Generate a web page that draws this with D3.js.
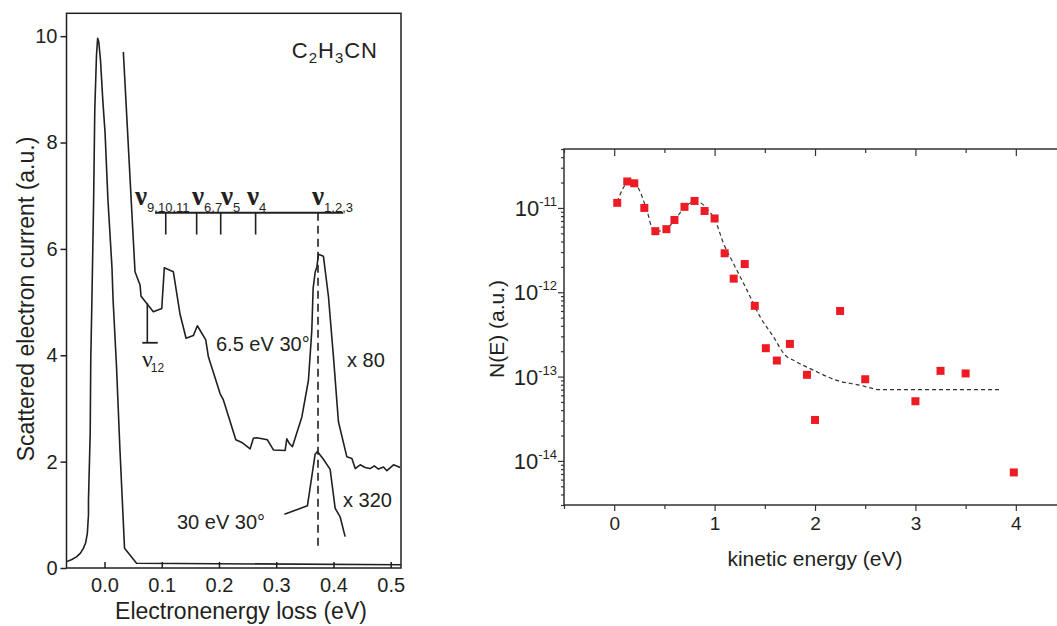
<!DOCTYPE html>
<html>
<head>
<meta charset="utf-8">
<script src="https://cdn.jsdelivr.net/npm/d3@7"></script>
<style>
body { margin: 0; background: #fff; }
text { font-family: "Liberation Sans", Arial, sans-serif; fill: #231f20; }
</style>
</head>
<body>
<div class="chart-div"></div>
<script>
//--------------------------- Data: left panel (energy loss spectra)

var elasticLoss = [-0.066, -0.057, -0.049, -0.042, -0.037, -0.033, -0.030, -0.028, -0.028, -0.025, -0.024, -0.022, -0.019, -0.017, -0.014, -0.012, -0.010, -0.007, -0.003, 0.001, 0.006, 0.013, 0.015, 0.021, 0.027, 0.035, 0.056, 0.518];
var elasticCurrent = [0.12, 0.16, 0.21, 0.28, 0.37, 0.47, 0.65, 1.0, 1.28, 2.54, 3.91, 5.04, 6.92, 8.61, 9.64, 9.96, 9.89, 9.55, 8.8, 8.18, 6.92, 5.66, 5.04, 3.78, 2.22, 0.37, 0.09, 0.06];

var vib65Loss = [0.0329, 0.0533, 0.0621, 0.0638, 0.0853, 0.1000, 0.1045, 0.1203, 0.132, 0.1425, 0.1552, 0.1622, 0.1769, 0.1815, 0.2019, 0.2077, 0.2294, 0.2399, 0.2544, 0.2601, 0.2661, 0.2846, 0.2951, 0.3156, 0.3185, 0.3231, 0.3283, 0.3448, 0.3563, 0.3622, 0.3645, 0.368, 0.371, 0.3738, 0.3825, 0.3913, 0.40, 0.4087, 0.4234, 0.4322, 0.438, 0.4467, 0.4554, 0.4642, 0.4712, 0.4787, 0.4874, 0.4934, 0.5049, 0.5166];
var vib65Current = [9.705, 5.57, 5.32, 5.11, 4.82, 4.88, 5.645, 5.57, 4.77, 4.32, 4.37, 4.555, 4.29, 3.97, 3.28, 3.16, 2.41, 2.36, 2.24, 2.44, 2.45, 2.41, 2.22, 2.21, 2.43, 2.34, 2.28, 2.84, 3.53, 4.47, 5.26, 5.56, 5.66, 5.90, 5.86, 5.10, 3.97, 2.75, 2.09, 2.06, 1.87, 1.94, 1.89, 1.87, 1.92, 1.86, 1.90, 1.83, 1.94, 1.89];

var vib30Loss = [0.3143, 0.3545, 0.368, 0.372, 0.3815, 0.3942, 0.403, 0.4117, 0.4204];
var vib30Current = [1.01, 1.17, 2.14, 2.19, 2.06, 1.855, 1.12, 0.96, 0.59];

var lossTicks = [0.0, 0.1, 0.2, 0.3, 0.4, 0.5];
var currentTicks = [0, 2, 4, 6, 8, 10];

// vibrational mode markers
var modeSubs = ["9,10,11", "6,7", "5", "4", "1,2,3"];
var modeLoss = [0.107, 0.161, 0.203, 0.264, 0.373];
var modeLabelLoss = [0.0533, 0.1529, 0.2035, 0.249, 0.3625];
var modeBar = [0.0883, 0.417, 6.68, 6.27];   // x from, x to, level, tick end
var nu12 = [0.0748, 4.98, 4.235];            // loss, top, bottom

//--------------------------- Data: right panel (N(E))

var kineticE = [0.03, 0.13, 0.2, 0.3, 0.41, 0.52, 0.6, 0.7, 0.8, 0.9, 1.0, 1.1, 1.19, 1.3, 1.4, 1.51, 1.62, 1.75, 1.92, 2.0, 2.25, 2.5, 3.0, 3.25, 3.5, 3.98];
var yieldNE = [1.15e-11, 2.06e-11, 1.96e-11, 1.0e-11, 5.3e-12, 5.6e-12, 7.2e-12, 1.03e-11, 1.21e-11, 9.2e-12, 7.5e-12, 2.9e-12, 1.45e-12, 2.16e-12, 6.9e-13, 2.17e-13, 1.55e-13, 2.44e-13, 1.05e-13, 3.06e-14, 6.0e-13, 9.3e-14, 5.1e-14, 1.17e-13, 1.09e-13, 7.3e-15];

var fitE = [0.03, 0.126, 0.176, 0.242, 0.325, 0.392, 0.458, 0.541, 0.624, 0.707, 0.79, 0.857, 0.923, 1.006, 1.089, 1.188, 1.322, 1.454, 1.587, 1.703, 1.786, 1.985, 2.218, 2.45, 2.65, 3.86];
var fitN = [1.18e-11, 1.95e-11, 2.03e-11, 1.70e-11, 9.4e-12, 5.4e-12, 5.33e-12, 5.96e-12, 7.8e-12, 1.03e-11, 1.18e-11, 1.15e-11, 9.8e-12, 7.1e-12, 3.8e-12, 2.19e-12, 1.06e-12, 5.1e-13, 2.95e-13, 1.79e-13, 1.56e-13, 1.19e-13, 9.0e-14, 7.9e-14, 7.0e-14, 7.0e-14];

var energyTicks = [0, 1, 2, 3, 4];
var energyMinor = [-0.5, 0.5, 1.5, 2.5, 3.5];
var decadeTicks = [1e-14, 1e-13, 1e-12, 1e-11];
var decadeExp = ["-14", "-13", "-12", "-11"];

//--------------------------- SVG definition

var ink = "#231f20";
var svg = d3.select("div.chart-div")
    .append("svg")
    .attr("width", 1057)
    .attr("height", 626);

//=========================== LEFT PANEL

var xL = d3.scaleLinear().domain([-0.0664, 0.518]).range([66.5, 401]);
var yL = d3.scaleLinear().domain([0, 10.43]).range([568, 13.3]);

var left = svg.append("g");

left.append("rect")
    .attr("x", 66.5).attr("y", 13.3)
    .attr("width", 334.5).attr("height", 554.7)
    .attr("fill", "none").attr("stroke", ink).attr("stroke-width", 1.5);

var gxL = left.append("g")
    .attr("transform", "translate(0,568)")
    .call(d3.axisBottom(xL).tickValues(lossTicks).tickFormat(d3.format(".1f"))
        .tickSizeInner(-6).tickSizeOuter(0).tickPadding(10));

var gyL = left.append("g")
    .attr("transform", "translate(66.5,0)")
    .call(d3.axisLeft(yL).tickValues(currentTicks).tickFormat(d3.format("d"))
        .tickSize(6).tickPadding(3));

[gxL, gyL].forEach(function (g) {
    g.select(".domain").remove();
    g.selectAll("line").attr("stroke", ink).attr("stroke-width", 1.5);
    g.selectAll("text").attr("font-size", 20).attr("fill", ink)
        .style("font-family", '"Liberation Sans", Arial, sans-serif');
});

left.append("text")
    .attr("transform", "translate(34,299) rotate(-90)")
    .attr("text-anchor", "middle")
    .attr("font-size", 23)
    .text("Scattered electron current (a.u.)");

left.append("text")
    .attr("x", 241).attr("y", 619)
    .attr("text-anchor", "middle")
    .attr("font-size", 23)
    .text("Electronenergy loss (eV)");

var lineL = d3.line()
    .x(function (d) { return xL(d[0]); })
    .y(function (d) { return yL(d[1]); });

var spectra = [
    d3.zip(elasticLoss, elasticCurrent),
    d3.zip(vib65Loss, vib65Current),
    d3.zip(vib30Loss, vib30Current)
];

left.selectAll("path.spec")
    .data(spectra)
    .enter()
    .append("path")
    .attr("class", "spec")
    .attr("d", lineL)
    .attr("fill", "none")
    .attr("stroke", ink)
    .attr("stroke-width", 1.6)
    .attr("stroke-linejoin", "round");

//--------------- vibrational mode bar

left.append("line")
    .attr("x1", xL(modeBar[0])).attr("x2", xL(modeBar[1]))
    .attr("y1", yL(modeBar[2])).attr("y2", yL(modeBar[2]))
    .attr("stroke", ink).attr("stroke-width", 1.8);

left.selectAll("line.mode")
    .data(modeLoss)
    .enter()
    .append("line")
    .attr("class", "mode")
    .attr("x1", function (d) { return xL(d); })
    .attr("x2", function (d) { return xL(d); })
    .attr("y1", yL(modeBar[2]))
    .attr("y2", function (d, i) { return i == modeLoss.length - 1 ? yL(0.376) : yL(modeBar[3]); })
    .attr("stroke", ink)
    .attr("stroke-width", 1.6)
    .attr("stroke-dasharray", function (d, i) { return i == modeLoss.length - 1 ? "8,5" : null; });

var modeText = left.selectAll("text.mode")
    .data(modeSubs)
    .enter()
    .append("text")
    .attr("class", "mode")
    .attr("x", function (d, i) { return xL(modeLabelLoss[i]); })
    .attr("y", yL(modeBar[2]) - 8);

modeText.append("tspan")
    .style("font-family", '"Liberation Serif", "Times New Roman", serif')
    .attr("font-size", 27)
    .attr("font-weight", "bold")
    .text("\u03bd");
modeText.append("tspan")
    .attr("font-size", 13)
    .attr("dy", 7)
    .text(function (d) { return d; });

// nu 12 marker
left.append("line")
    .attr("x1", xL(nu12[0])).attr("x2", xL(nu12[0]))
    .attr("y1", yL(nu12[1])).attr("y2", yL(nu12[2]))
    .attr("stroke", ink).attr("stroke-width", 1.6);
left.append("line")
    .attr("x1", xL(0.066)).attr("x2", xL(0.093))
    .attr("y1", yL(nu12[2])).attr("y2", yL(nu12[2]))
    .attr("stroke", ink).attr("stroke-width", 1.8);
var nu12Text = left.append("text")
    .attr("x", xL(0.0655)).attr("y", 367);
nu12Text.append("tspan")
    .style("font-family", '"Liberation Serif", "Times New Roman", serif')
    .attr("font-size", 24)
    .text("\u03bd");
nu12Text.append("tspan")
    .attr("font-size", 12).attr("dy", 5).attr("dx", -2)
    .text("12");

// chemical formula
var formula = left.append("text")
    .attr("x", 378).attr("y", 58)
    .attr("text-anchor", "end")
    .attr("font-size", 22)
    .attr("letter-spacing", 1);
[["C", 0], ["2", 5], ["H", -5], ["3", 5], ["CN", -5]].forEach(function (p) {
    formula.append("tspan")
        .attr("dy", p[1])
        .attr("font-size", p[1] > 0 ? 15 : 22)
        .text(p[0]);
});

// annotations
var notes = [["6.5 eV 30\u00b0", 216, 351], ["x 80", 347, 367], ["x 320", 343, 507], ["30 eV 30\u00b0", 177, 529]];
left.selectAll("text.note")
    .data(notes)
    .enter()
    .append("text")
    .attr("class", "note")
    .attr("x", function (d) { return d[1]; })
    .attr("y", function (d) { return d[2]; })
    .attr("font-size", 20)
    .text(function (d) { return d[0]; });

//=========================== RIGHT PANEL

var xR = d3.scaleLinear().domain([-0.5, 4.42]).range([564, 1058]);
var yR = d3.scaleLog().domain([3e-15, 5e-11]).range([505, 149]);

var right = svg.append("g");

var minorN = [];
[-15, -14, -13, -12, -11].forEach(function (e) {
    for (var m = 2; m <= 9; m++) {
        var v = m * Math.pow(10, e);
        if (v >= 3e-15 && v <= 5e-11) minorN.push(v);
    }
});

var axesR = [
    right.append("g").attr("transform", "translate(0,505)")
        .call(d3.axisBottom(xR).tickValues(energyTicks).tickFormat(d3.format("d")).tickSize(6).tickPadding(6)),
    right.append("g").attr("transform", "translate(0,505)")
        .call(d3.axisBottom(xR).tickValues(energyMinor).tickFormat("").tickSize(4)),
    right.append("g").attr("transform", "translate(0,149)")
        .call(d3.axisTop(xR).tickValues(energyTicks).tickFormat("").tickSize(-7)),
    right.append("g").attr("transform", "translate(0,149)")
        .call(d3.axisTop(xR).tickValues(energyMinor).tickFormat("").tickSize(-4)),
    right.append("g").attr("transform", "translate(564,0)")
        .call(d3.axisLeft(yR).tickValues(decadeTicks).tickFormat("").tickSize(6)),
    right.append("g").attr("transform", "translate(564,0)")
        .call(d3.axisLeft(yR).tickValues(minorN).tickFormat("").tickSize(3))
];

axesR.forEach(function (g) {
    g.select(".domain").remove();
    g.selectAll("line").attr("stroke", "#333").attr("stroke-width", 1.2);
    g.selectAll("text").attr("font-size", 19).attr("fill", ink)
        .style("font-family", '"Liberation Sans", Arial, sans-serif');
});

// frame lines
right.append("path")
    .attr("d", "M1057,149H564V505H1057")
    .attr("fill", "none").attr("stroke", "#333").attr("stroke-width", 1.5);

// log tick labels
var decLabels = right.selectAll("text.dec")
    .data(decadeTicks)
    .enter()
    .append("text")
    .attr("class", "dec")
    .attr("x", 557)
    .attr("y", function (d) { return yR(d) + 8; })
    .attr("text-anchor", "end");
decLabels.append("tspan").attr("font-size", 22).text("10");
decLabels.append("tspan").attr("font-size", 13).attr("dy", -10)
    .text(function (d, i) { return decadeExp[i]; });

right.append("text")
    .attr("transform", "translate(504,329) rotate(-90)")
    .attr("text-anchor", "middle")
    .attr("font-size", 21)
    .text("N(E) (a.u.)");

right.append("text")
    .attr("x", 815).attr("y", 566)
    .attr("text-anchor", "middle")
    .attr("font-size", 21)
    .text("kinetic energy (eV)");

// fitted curve
var lineR = d3.line()
    .curve(d3.curveMonotoneX)
    .x(function (d) { return xR(d[0]); })
    .y(function (d) { return yR(d[1]); });

right.append("path")
    .attr("d", lineR(d3.zip(fitE, fitN)))
    .attr("fill", "none")
    .attr("stroke", "#333")
    .attr("stroke-width", 1.2)
    .attr("stroke-dasharray", "4,3");

// measured points
right.selectAll("rect.pt")
    .data(d3.zip(kineticE, yieldNE))
    .enter()
    .append("rect")
    .attr("class", "pt")
    .attr("x", function (d) { return xR(d[0]) - 4; })
    .attr("y", function (d) { return yR(d[1]) - 4; })
    .attr("width", 8)
    .attr("height", 8)
    .attr("fill", "#ed1c24");
</script>
</body>
</html>
